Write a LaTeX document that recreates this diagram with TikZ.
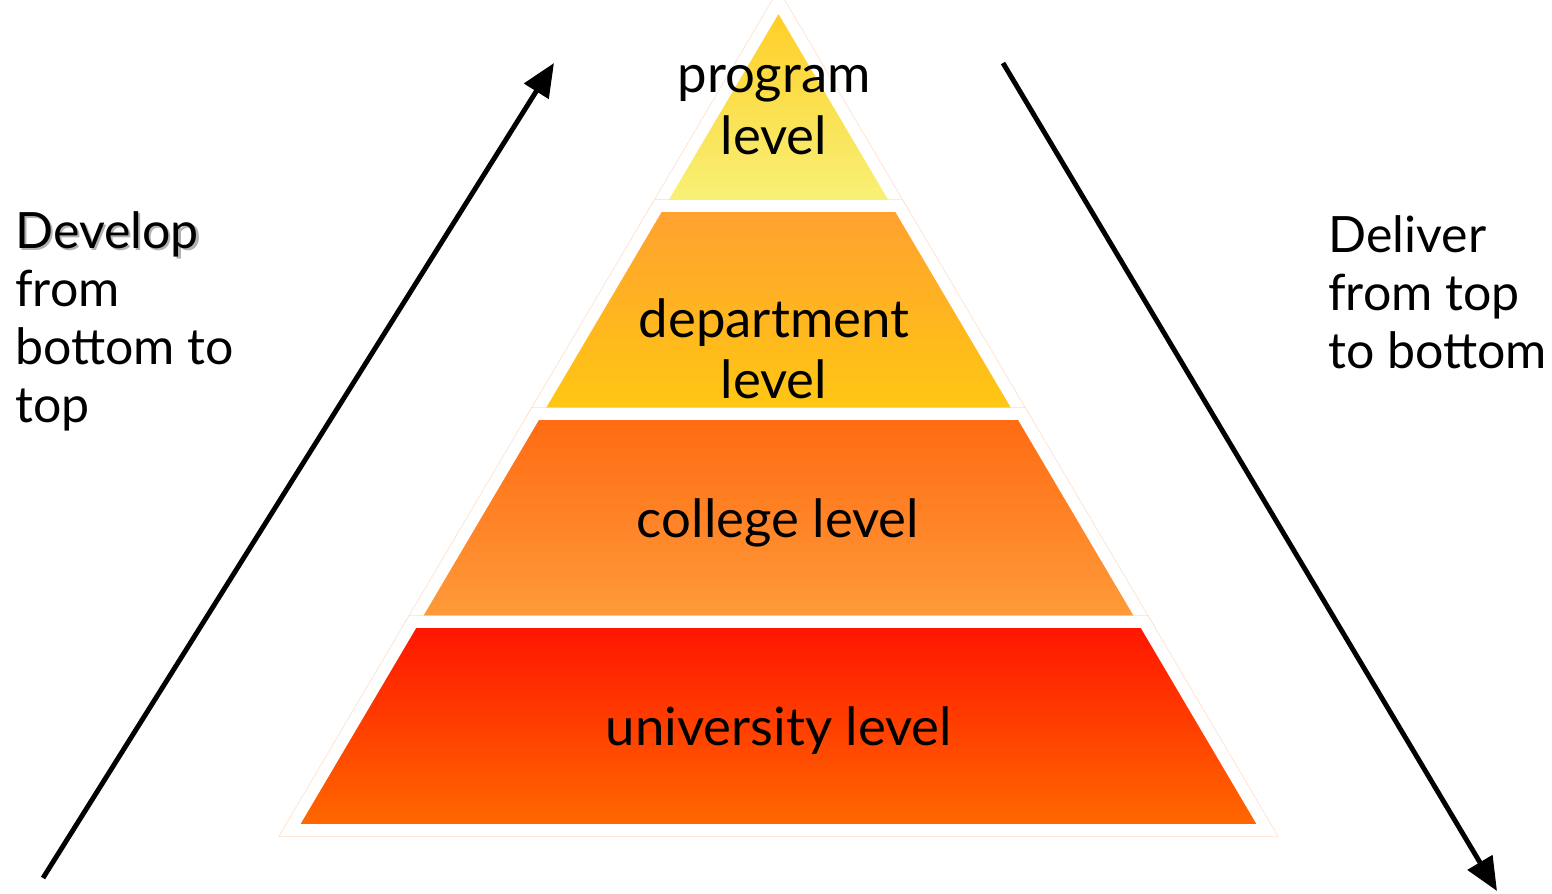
\documentclass[tikz,border=0pt]{standalone}
\usepackage{fontspec}
\setmainfont{Lato}
\usepackage{tikz}
\usetikzlibrary{arrows.meta,positioning,calc}
\definecolor{progtop}{HTML}{FFCC22}
\definecolor{progbot}{HTML}{F8F27A}
\definecolor{depttop}{HTML}{FFA030}
\definecolor{deptbot}{HTML}{FFC812}
\definecolor{colltop}{HTML}{FF6A12}
\definecolor{collbot}{HTML}{FF9C3A}
\definecolor{univtop}{HTML}{FF1400}
\definecolor{univbot}{HTML}{FF6A00}
\definecolor{rimline}{HTML}{FFDCC4}
\newcommand{\softshadow}[1]{\makebox[0pt][l]{\kern1.3pt\raisebox{-1.3pt}{\color{black!30}#1}}#1}
\tikzset{
  layer/.style={draw=white,line width=6.8pt,line join=miter,
                preaction={draw=rimline,line width=7.6pt}},
  levellabel/.style={align=center,font=\fontsize{30}{35}\selectfont,inner sep=0pt},
  sidelabel/.style={align=left,anchor=west,font=\fontsize{28.5}{33}\selectfont,inner sep=0pt},
  flowarr/.style={-{Triangle[length=19pt,width=16pt]},line width=2.8pt}
}

\begin{document}
\begin{tikzpicture}[x=0.02cm,y=-0.02cm]
  \useasboundingbox (0,0) rectangle (1552,893);

  % pyramid layers, top to bottom
  \path[layer,top color=progtop,bottom color=progbot]
    (778.5,2) -- (898.9,206) -- (658.1,206) -- cycle;
  \path[layer,top color=depttop,bottom color=deptbot]
    (658.1,206) -- (898.9,206) -- (1021.6,414) -- (535.4,414) -- cycle;
  \path[layer,top color=colltop,bottom color=collbot]
    (535.4,414) -- (1021.6,414) -- (1144.3,622) -- (412.7,622) -- cycle;
  \path[layer,top color=univtop,bottom color=univbot]
    (412.7,622) -- (1144.3,622) -- (1267,830) -- (290,830) -- cycle;

  \node[levellabel] (program) at (774,110) {program\\level};
  \node[levellabel] (department) at (774,349) {department\\level};
  \node[levellabel] (college) at (778,523) {college level};
  \node[levellabel] (university) at (779,731) {university level};

  % side notes
  \node[sidelabel] (develop) at (15,321) {\softshadow{Develop}\\from\\bottom to\\top};
  \node[sidelabel] (deliver) at (1328,292) {Deliver\\from top\\to bottom};

  % arrows
  \coordinate (devstart) at (43,878);
  \coordinate (devend) at (554,63);
  \coordinate (delstart) at (1003,63);
  \coordinate (delend) at (1497,891);
  \draw[flowarr] (devstart) -- (devend);
  \draw[flowarr] (delstart) -- (delend);
\end{tikzpicture}
\end{document}
